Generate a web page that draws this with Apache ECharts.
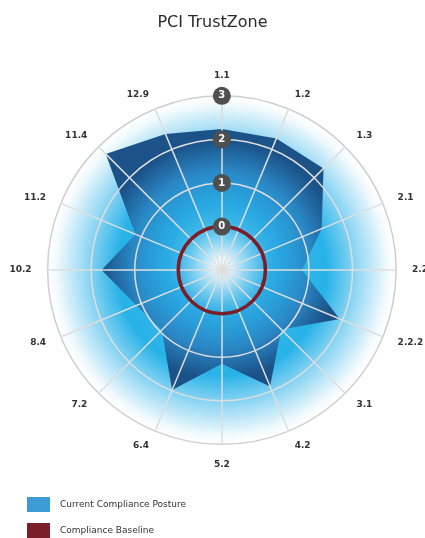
<!DOCTYPE html>
<html>
<head>
<meta charset="utf-8">
<script src="https://cdn.jsdelivr.net/npm/echarts@6/dist/echarts.min.js"></script>
<style>
html,body{margin:0;padding:0;background:#fff;}
#chart{width:425px;height:538px;}
</style>
</head>
<body>
<div id="chart"></div>
<script>
// Categories clockwise from top
const categories = ['1.1','1.2','1.3','2.1','2.2','2.2.2','3.1','4.2','5.2','6.4','7.2','8.4','10.2','11.2','11.4','12.9'];
const postureValues = [2.24, 2.27, 2.30, 1.48, 0.84, 1.93, 0.93, 1.89, 1.15, 1.98, 0.95, 1.12, 1.76, 1.15, 2.77, 2.38];
const baselineValues = [0, 0, 0, 0, 0, 0, 0, 0, 0, 0, 0, 0, 0, 0, 0, 0];
const backdropValues = [3, 3, 3, 3, 3, 3, 3, 3, 3, 3, 3, 3, 3, 3, 3, 3];
const radialTicks = [-1, 0, 1, 2, 3];
const baselineTick = 0;
const seriesNames = ['Current Compliance Posture', 'Compliance Baseline'];
const baselineColor = '#7a1e2a';

// ECharts radar lays indicators out counter-clockwise; reorder so they read clockwise.
const order = [0].concat(categories.map((c, i) => i).slice(1).reverse());
const pick = arr => order.map(i => arr[i]);

const rMin = radialTicks[0], rMax = radialTicks[radialTicks.length - 1];
const plainIndicators = pick(categories).map(name => ({ name: name, min: rMin, max: rMax }));
const badgeIndicators = pick(categories).map((name, k) => {
  const ind = { name: name, min: rMin, max: rMax };
  if (k === 0) {
    ind.axisLabel = {
      show: true, showMinLabel: false, margin: 0, align: 'center', verticalAlign: 'middle',
      backgroundColor: '#4f4f4f', borderRadius: 9, width: 12, height: 12, lineHeight: 12,
      padding: [3, 3], color: '#fff', fontSize: 10, fontWeight: 'bold', fontFamily: 'DejaVu Sans'
    };
  }
  return ind;
});

// ring colours per tick: grid rings light grey, the baseline tick ring drawn separately in red
const gridRingColors = radialTicks.map((t, i) => t === baselineTick ? 'rgba(0,0,0,0)' : (i === radialTicks.length - 1 ? '#cfcfcf' : '#dedede'));
const baselineRingColors = radialTicks.map(t => t === baselineTick ? baselineColor : 'rgba(0,0,0,0)');

const radarGeom = { center: ['52.2%', '50.2%'], radius: '82%', splitNumber: radialTicks.length - 1, shape: 'circle' };
const bare = {
  axisName: { show: false }, axisLine: { show: false }, splitArea: { show: false },
  axisLabel: { show: false }, axisTick: { show: false }
};

const chart = echarts.init(document.getElementById('chart'), null, { renderer: 'canvas' });
chart.setOption({
  animation: false,
  backgroundColor: '#ffffff',
  title: {
    text: 'PCI TrustZone', left: 'center', top: 10,
    textStyle: { color: '#2a2a2a', fontSize: 16, fontWeight: 'normal', fontFamily: 'DejaVu Sans' }
  },
  legend: {
    orient: 'vertical', left: 27, top: 497, padding: 0, itemWidth: 23, itemHeight: 15, itemGap: 11,
    textStyle: { color: '#333', fontSize: 9, fontFamily: 'DejaVu Sans', padding: [0, 0, 0, 5] },
    data: [
      { name: seriesNames[0], icon: 'rect', itemStyle: { color: '#3d9bd6', opacity: 1 } },
      { name: seriesNames[1], icon: 'rect', itemStyle: { color: baselineColor, opacity: 1 } }
    ]
  },
  radar: [
    Object.assign({}, radarGeom, {
      z: 3,
      nameGap: 16,
      axisName: { color: '#333', fontSize: 9, fontWeight: 'bold', fontFamily: 'DejaVu Sans' },
      axisLine: { lineStyle: { color: '#dedede', width: 1.5 } },
      splitLine: { lineStyle: { color: gridRingColors, width: 1.5 } },
      splitArea: { show: false },
      axisLabel: { show: false },
      axisTick: { show: false },
      indicator: plainIndicators
    }),
    Object.assign({}, radarGeom, bare, {
      z: 5,
      splitLine: { lineStyle: { color: baselineRingColors, width: 3.5 } },
      indicator: plainIndicators
    }),
    Object.assign({}, radarGeom, bare, {
      z: 6,
      splitLine: { show: false },
      indicator: badgeIndicators
    })
  ],
  series: [
    {
      type: 'radar', name: 'backdrop', radarIndex: 0, z: 1, silent: true, symbol: 'none',
      lineStyle: { width: 0 },
      areaStyle: {
        opacity: 1,
        color: new echarts.graphic.RadialGradient(0.5, 0.5, 0.5, [
          { offset: 0, color: '#ffffff' },
          { offset: 0.06, color: '#f2fafe' },
          { offset: 0.28, color: '#3bbaea' },
          { offset: 0.6, color: '#27b2e8' },
          { offset: 0.8, color: '#9fdcf5' },
          { offset: 0.95, color: '#f2fafd' },
          { offset: 1, color: '#ffffff' }
        ])
      },
      data: [{ value: pick(backdropValues) }]
    },
    {
      type: 'radar', name: seriesNames[0], radarIndex: 0, z: 2, symbol: 'none', color: '#3d9bd6',
      lineStyle: { width: 0 },
      areaStyle: {
        opacity: 1,
        color: new echarts.graphic.RadialGradient(0.5, 0.5, 0.5, [
          { offset: 0, color: 'rgba(120,210,245,0)' },
          { offset: 0.45, color: 'rgba(36,165,225,0.7)' },
          { offset: 0.75, color: '#2a86c4' },
          { offset: 1, color: '#1b5288' }
        ])
      },
      data: [{ value: pick(postureValues), name: seriesNames[0] }]
    },
    {
      type: 'radar', name: seriesNames[1], radarIndex: 1, z: 4, symbol: 'none', color: baselineColor,
      lineStyle: { width: 3.5, color: baselineColor, opacity: 0 },
      data: [{ value: pick(baselineValues), name: seriesNames[1] }]
    }
  ]
});
</script>
</body>
</html>
